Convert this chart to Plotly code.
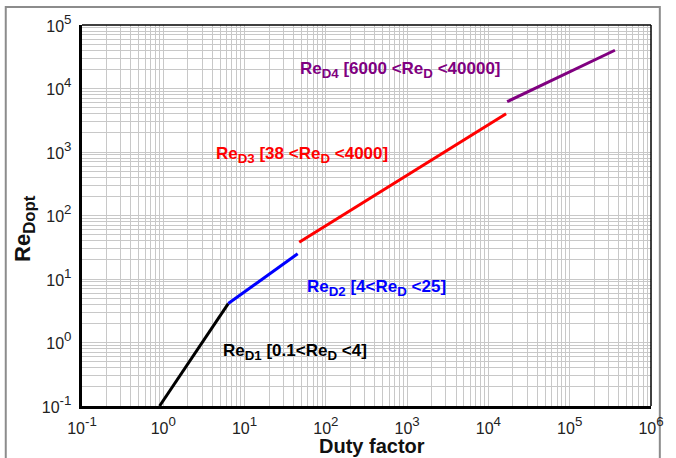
import plotly.graph_objects as go

# Data
d1_x = [0.9, 6.3]
d1_y = [0.1, 4.1]
d2_x = [6.3, 45]
d2_y = [4.1, 25]
d3_x = [47, 16500]
d3_y = [38, 4000]
d4_x = [17000, 360000]
d4_y = [6200, 40000]

x_major = [0.1, 1, 10, 100, 1e3, 1e4, 1e5, 1e6]
x_exps = ["-1", "0", "1", "2", "3", "4", "5", "6"]
y_major = [0.1, 1, 10, 100, 1e3, 1e4, 1e5]
y_exps = ["-1", "0", "1", "2", "3", "4", "5"]


def pow_label(e):
    return "<span style='font-size:16px'>10</span><sup>" + e + "</sup>"


x_labels = [pow_label(e) for e in x_exps]
y_labels = [pow_label(e) for e in y_exps]

x_minor = [m * 10 ** k for k in range(-1, 6) for m in range(2, 10)]
y_minor = [m * 10 ** k for k in range(-1, 5) for m in range(2, 10)]

FONT = "Liberation Sans, Arial, sans-serif"
GRID = "#c8c8c8"

fig = go.Figure()
for xs, ys, col in [(d1_x, d1_y, "#000000"), (d2_x, d2_y, "#0000ff"),
                    (d3_x, d3_y, "#ff0000"), (d4_x, d4_y, "#800080")]:
    fig.add_trace(go.Scatter(x=xs, y=ys, mode="lines",
                             line=dict(color=col, width=3), showlegend=False))

fig.update_xaxes(type="log", range=[-1, 6], tickvals=x_major, ticktext=x_labels,
                 showgrid=True, gridcolor=GRID, gridwidth=1,
                 minor=dict(tickvals=x_minor, showgrid=True, gridcolor=GRID, gridwidth=1, ticks=""),
                 ticks="", showline=True, linecolor="black", linewidth=2.5,
                 tickfont=dict(family=FONT, size=19, color="#222"), zeroline=False,
                 ticklabelstandoff=2)
fig.update_yaxes(type="log", range=[-1, 5], tickvals=y_major, ticktext=y_labels,
                 showgrid=True, gridcolor=GRID, gridwidth=1,
                 minor=dict(tickvals=y_minor, showgrid=True, gridcolor=GRID, gridwidth=1, ticks=""),
                 ticks="", showline=True, linecolor="black", linewidth=2.5,
                 tickfont=dict(family=FONT, size=19, color="#222"), zeroline=False,
                 ticklabelstandoff=4)

# top / right frame lines
fig.add_shape(type="line", xref="paper", yref="paper", x0=0, x1=1, y0=1, y1=1,
              line=dict(color="black", width=1.5))
fig.add_shape(type="line", xref="paper", yref="paper", x0=1, x1=1, y0=0, y1=1,
              line=dict(color="black", width=1.5))
# outer gray border
fig.add_shape(type="rect", xref="paper", yref="paper", x0=-0.134, x1=1.0155, y0=-0.16, y1=1.047,
              line=dict(color="#8c8c8c", width=2), layer="below")


def m(t, size=17):
    return "<span style='font-size:%dpx'>%s</span>" % (size, t)


anns = [
    (m("Re") + "<sub>D4</sub>" + m(" [6000 &lt;Re") + "<sub>D</sub>" + m(" &lt;40000]"), "#800080", 0.380, 0.883),
    (m("Re") + "<sub>D3</sub>" + m(" [38 &lt;Re") + "<sub>D</sub>" + m(" &lt;4000]"), "#ff0000", 0.232, 0.659),
    (m("Re") + "<sub>D2</sub>" + m(" [4&lt;Re") + "<sub>D</sub>" + m(" &lt;25]"), "#0000ff", 0.392, 0.31),
    (m("Re") + "<sub>D1</sub>" + m(" [0.1&lt;Re") + "<sub>D</sub>" + m(" &lt;4]"), "#000000", 0.244, 0.142),
]
for txt, col, ax, ay in anns:
    fig.add_annotation(text="<b>" + txt + "</b>", xref="paper", yref="paper", x=ax, y=ay,
                       xanchor="left", yanchor="middle", showarrow=False,
                       font=dict(family=FONT, size=19, color=col))

fig.add_annotation(text="<b>Duty factor</b>", xref="paper", yref="paper", x=0.509, y=-0.106,
                   xanchor="center", yanchor="middle", showarrow=False,
                   font=dict(family=FONT, size=20, color="#111"))
fig.add_annotation(text="<b>" + m("Re", 22) + "<sub>Dopt</sub></b>", xref="paper", yref="paper",
                   x=-0.10, y=0.465,
                   xanchor="center", yanchor="middle", showarrow=False, textangle=-90,
                   font=dict(family=FONT, size=24, color="#111"))

fig.update_layout(width=676, height=458, margin=dict(l=82, r=13, t=22, b=52),
                  paper_bgcolor="white", plot_bgcolor="white")

fig.write_html("out.html", config={"displayModeBar": False},
               post_script="document.body.style.margin='0';")
